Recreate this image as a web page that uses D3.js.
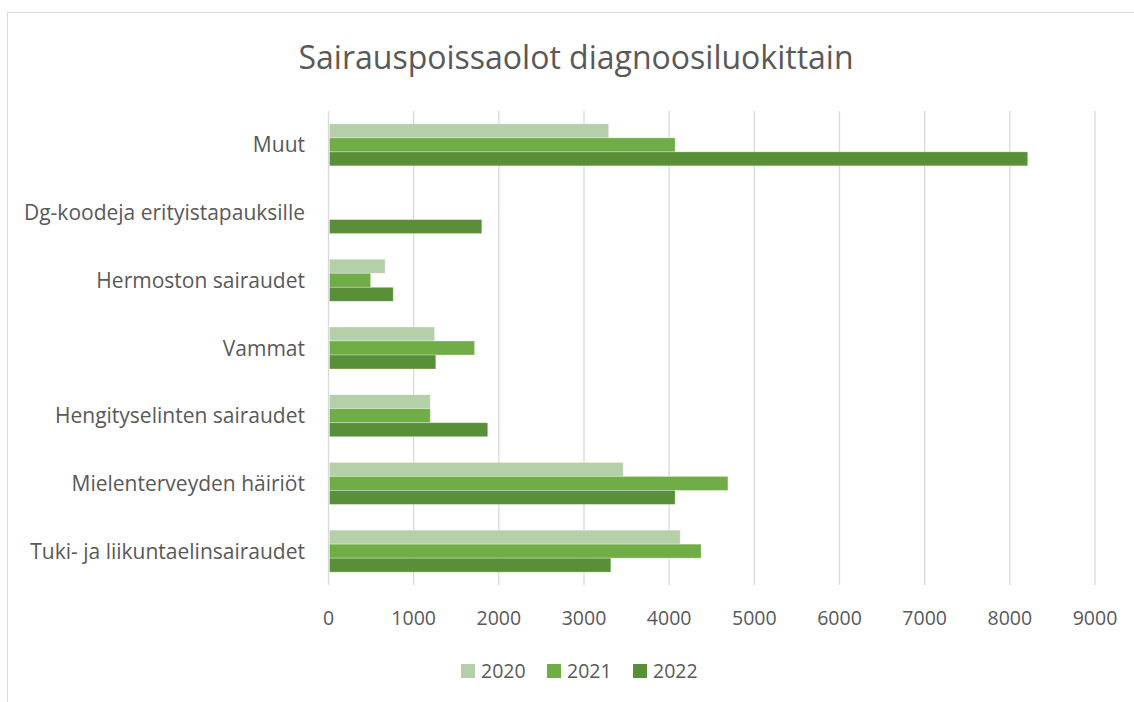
<!DOCTYPE html>
<html>
<head>
<meta charset="utf-8">
<script src="https://cdn.jsdelivr.net/npm/d3@7"></script>
<style>
  body { margin: 0; background: #fff; }
  svg { display: block; font-family: "Open Sans", sans-serif; }
</style>
</head>
<body>
<div id="chart"></div>
<script>
  "use strict";

  // data
  var categories = ["Muut", "Dg-koodeja erityistapauksille", "Hermoston sairaudet", "Vammat",
    "Hengityselinten sairaudet", "Mielenterveyden häiriöt", "Tuki- ja liikuntaelinsairaudet"]
  var years = ["2020", "2021", "2022"]
  var values2020 = [3290, 0, 665, 1245, 1195, 3460, 4130]
  var values2021 = [4070, 0, 495, 1715, 1195, 4690, 4375]
  var values2022 = [8210, 1800, 760, 1260, 1870, 4070, 3315]
  var ticks = [0, 1000, 2000, 3000, 4000, 5000, 6000, 7000, 8000, 9000]
  var colors = ["#b5d0a8", "#70ad47", "#5a8f3a"]
  var title = "Sairauspoissaolot diagnoosiluokittain"

  var series = [values2020, values2021, values2022]

  var width = 1134
    , height = 702
    , plot = { left: 328.5, right: 1095, top: 111, bottom: 585 }
    , textColor = "#595959"

  var svg = d3.select("#chart")
    .append("svg")
    .attr("width", width)
    .attr("height", height)

  // chart frame
  svg.append("rect")
    .attr("x", 7.5)
    .attr("y", 12.5)
    .attr("width", width)
    .attr("height", height)
    .attr("fill", "none")
    .attr("stroke", "#d9d9d9")

  var x = d3.scaleLinear()
    .domain([0, 9000])
    .range([plot.left, plot.right])

  var y = d3.scaleBand()
    .domain(categories)
    .range([plot.top, plot.bottom])
    .paddingInner(0.38)
    .paddingOuter(0.19)

  var ySub = d3.scaleBand()
    .domain(years)
    .range([0, y.bandwidth()])

  // gridlines
  svg.append("g")
    .selectAll("line")
    .data(ticks)
    .enter().append("line")
      .attr("x1", function (d) { return x(d) })
      .attr("x2", function (d) { return x(d) })
      .attr("y1", plot.top)
      .attr("y2", plot.bottom)
      .attr("stroke", "#d9d9d9")
      .attr("stroke-width", 1.3)

  // bars
  var groups = svg.append("g")
    .selectAll("g")
    .data(series)
    .enter().append("g")
      .attr("fill", function (d, i) { return colors[i] })

  groups.selectAll("rect")
    .data(function (d, i) {
      return d.map(function (v, j) { return { year: years[i], cat: categories[j], value: v } })
    })
    .enter().append("rect")
      .filter(function (d) { return d.value > 0 })
      .attr("x", x(0) + 1)
      .attr("y", function (d) { return y(d.cat) + ySub(d.year) })
      .attr("width", function (d) { return x(d.value) - x(0) - 1 })
      .attr("height", ySub.bandwidth())
      .attr("stroke", "#ffffff")
      .attr("stroke-opacity", 0.4)
      .attr("stroke-width", 0.75)

  // x axis labels
  svg.append("g")
    .selectAll("text")
    .data(ticks)
    .enter().append("text")
      .attr("x", function (d) { return x(d) })
      .attr("y", 618)
      .attr("dy", "0.36em")
      .attr("text-anchor", "middle")
      .attr("font-size", "19.5px")
      .attr("fill", textColor)
      .text(function (d) { return d })

  // category labels
  svg.append("g")
    .selectAll("text")
    .data(categories)
    .enter().append("text")
      .attr("x", 305)
      .attr("y", function (d) { return y(d) + y.bandwidth() / 2 })
      .attr("dy", "0.36em")
      .attr("text-anchor", "end")
      .attr("font-size", "21px")
      .attr("fill", textColor)
      .text(function (d) { return d })

  // title
  svg.append("text")
    .attr("x", 576)
    .attr("y", 57)
    .attr("dy", "0.36em")
    .attr("text-anchor", "middle")
    .attr("font-size", "32px")
    .attr("fill", textColor)
    .text(title)

  // legend
  var legendX = [461, 547, 633]
  var legend = svg.append("g")
    .selectAll("g")
    .data(years)
    .enter().append("g")
      .attr("transform", function (d, i) { return "translate(" + legendX[i] + ",664)" })

  legend.append("rect")
    .attr("width", 14)
    .attr("height", 14)
    .attr("fill", function (d, i) { return colors[i] })

  legend.append("text")
    .attr("x", 20)
    .attr("y", 7)
    .attr("dy", "0.36em")
    .attr("font-size", "19.5px")
    .attr("fill", textColor)
    .text(function (d) { return d })
</script>
</body>
</html>
